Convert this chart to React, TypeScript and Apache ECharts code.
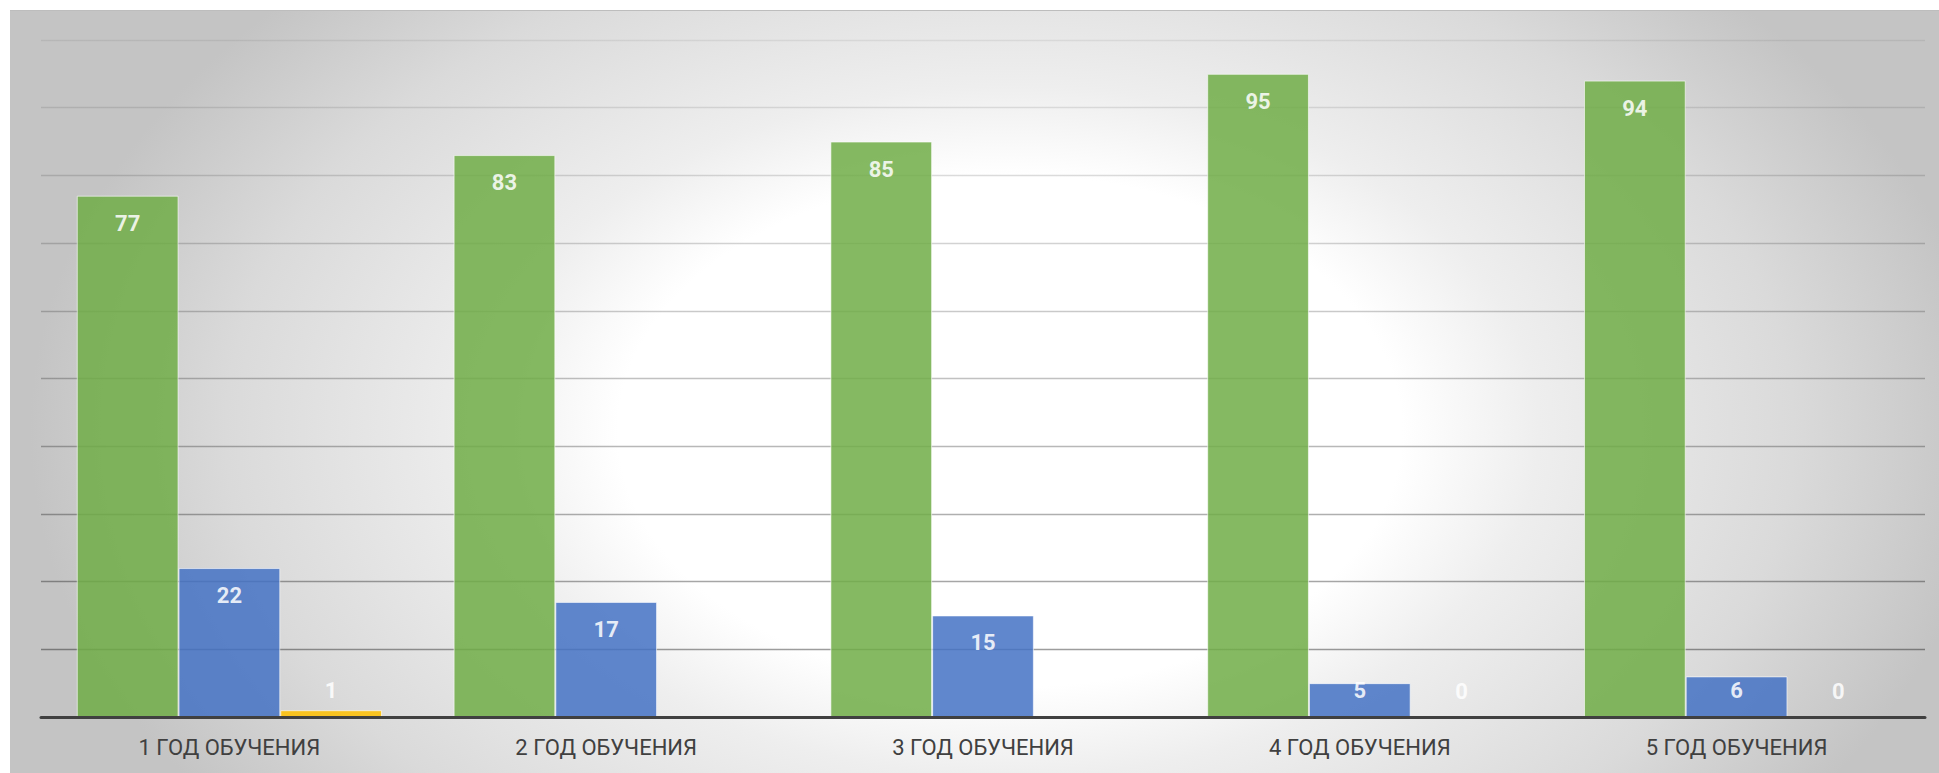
import React, { useEffect, useRef } from "react";
import * as echarts from "echarts";

const categories = ["1 ГОД ОБУЧЕНИЯ", "2 ГОД ОБУЧЕНИЯ", "3 ГОД ОБУЧЕНИЯ", "4 ГОД ОБУЧЕНИЯ", "5 ГОД ОБУЧЕНИЯ"];
const greenValues = [77, 83, 85, 95, 94];
const blueValues = [22, 17, 15, 5, 6];
const yellowValues: (number | null)[] = [1, null, null, 0, 0];
const seriesNames = ["Ряд 1", "Ряд 2", "Ряд 3"];

const W = 1939;
const H = 773;

function buildData(values: (number | null)[]) {
  return values.map((v) => {
    if (v === null) return null;
    return {
      value: v,
      label:
        v >= 10
          ? { position: "insideTop", distance: 17 }
          : { position: "insideBottom", distance: 16 },
    };
  });
}

export default function App() {
  const ref = useRef<HTMLDivElement>(null);

  useEffect(() => {
    if (!ref.current) return;
    const chart = echarts.init(ref.current, undefined, { renderer: "svg" });

    const labelStyle = {
      show: true,
      color: "#ffffff",
      fontFamily: "Roboto",
      fontWeight: "bold" as const,
      fontSize: 22,
      lineHeight: 21,
    };

    const mkSeries = (name: string, values: (number | null)[], color: string) => ({
      name,
      type: "bar",
      data: buildData(values),
      barGap: "0%",
      barCategoryGap: "19%",
      itemStyle: {
        color,
        opacity: 0.85,
        borderColor: "rgba(255,255,255,0.7)",
        borderWidth: 1,
      },
      label: labelStyle,
      z: 3,
    });

    chart.setOption({
      animation: false,
      backgroundColor: "transparent",
      grid: { left: 41, right: 14, top: 40, bottom: 56, containLabel: false },
      xAxis: {
        type: "category",
        data: categories,
        axisLine: { show: true, lineStyle: { color: "#404040", width: 3 } },
        axisTick: { show: false },
        axisLabel: {
          color: "#404040",
          fontFamily: "Roboto",
          fontSize: 22,
          lineHeight: 22,
          margin: 19,
        },
        z: 4,
      },
      yAxis: {
        type: "value",
        min: 0,
        max: 100,
        interval: 10,
        axisLine: { show: false },
        axisTick: { show: false },
        axisLabel: { show: false },
        splitLine: {
          show: true,
          lineStyle: {
            width: 1.3,
            color: new echarts.graphic.LinearGradient(
              0,
              40,
              0,
              717,
              [
                { offset: 0, color: "rgba(0,0,0,0.07)" },
                { offset: 1, color: "rgba(0,0,0,0.42)" },
              ],
              true
            ),
          },
        },
      },
      series: [
        mkSeries(seriesNames[0], greenValues, "#70AD47"),
        mkSeries(seriesNames[1], blueValues, "#4472C4"),
        mkSeries(seriesNames[2], yellowValues, "#FFC000"),
      ],
    });

    return () => {
      chart.dispose();
    };
  }, []);

  return (
    <div
      style={{
        position: "absolute",
        left: 0,
        top: 0,
        width: W,
        height: H,
        background: "#ffffff",
        overflow: "hidden",
      }}
    >
      <div
        style={{
          position: "absolute",
          left: 10,
          top: 10,
          width: W - 10,
          height: H - 10,
          borderTop: "1px solid #bdbdbd",
          boxSizing: "border-box",
          background:
            "radial-gradient(ellipse 980px 640px at 1000px 420px, #ffffff 0%, #ffffff 40%, #eeeeee 54%, #dadada 80%, #c4c4c4 100%)",
        }}
      />
      <div ref={ref} style={{ position: "absolute", left: 0, top: 0, width: W, height: H }} />
    </div>
  );
}
